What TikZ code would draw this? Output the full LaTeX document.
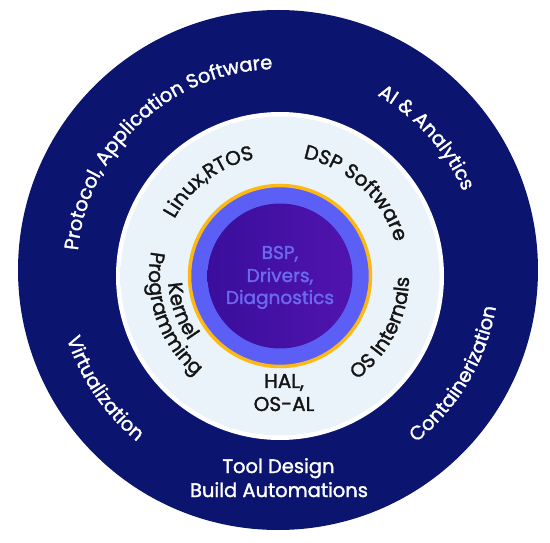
\documentclass[tikz,border=0pt]{standalone}
\usepackage{fontspec}
\setmainfont{Poppins}[FakeBold=1.6]
\usetikzlibrary{decorations.text}
\definecolor{navy}{HTML}{0B156F}
\definecolor{navyrim}{HTML}{060C48}
\definecolor{lightfill}{HTML}{EAF2FA}
\definecolor{lightrim}{HTML}{A9AEB3}
\definecolor{ringblue}{HTML}{5C5FF6}
\definecolor{gold}{HTML}{FDB913}
\definecolor{purpleA}{HTML}{3A0E9C}
\definecolor{purpleB}{HTML}{5014AE}
\definecolor{coretext}{HTML}{6D68F0}
\definecolor{ink}{HTML}{151515}
\pgfdeclareradialshading{navyshade}{\pgfpoint{0bp}{0bp}}{color(0bp)=(navy); color(49bp)=(navy); color(50bp)=(navyrim); color(70bp)=(navyrim)}
\pgfdeclareradialshading{lightshade}{\pgfpoint{0bp}{0bp}}{color(0bp)=(lightfill); color(48.2bp)=(lightfill); color(50bp)=(lightrim); color(70bp)=(lightrim)}
\newcommand\myOuterFont{\fontsize{19.5}{19.5}\selectfont}
\newcommand\myInnerFont{\fontsize{20}{20}\selectfont}
\begin{document}
\begin{tikzpicture}[x=1pt,y=1pt,
  outerlabel/.style={text=white, font=\myOuterFont, anchor=base},
  innerlabel/.style={text=ink, font=\myInnerFont, anchor=base},
  corelabel/.style={text=coretext, font=\fontsize{18.5}{18.5}\selectfont, anchor=base}]
\useasboundingbox (0,0) rectangle (550,542);
\coordinate (O) at (278,272);
\coordinate (C) at (280,266);
% rings
\path[shading=navyshade] (O) circle[radius=260];
\fill[white] (C) circle[radius=164];
\path[shading=lightshade] (C) circle[radius=159.5];
\draw[gold, line width=3.5pt, fill=ringblue] (C) circle[radius=90.5];
\path[left color=purpleA, right color=purpleB] (C) circle[radius=72.5];
% outer ring texts
\path[decorate, decoration={text along path, text align=center, text color=white,
  text={|\myOuterFont|Protocol, Application Software}}]
  (O) ++(193:201) arc[start angle=193, end angle=73, radius=201];
\path[decorate, decoration={text along path, text align=center, text color=white,
  text={|\myOuterFont|AI {\&} Analytics}}]
  (O) ++(101.7:201) arc[start angle=101.7, end angle=-18.3, radius=201];
\path[decorate, decoration={text along path, text align=center, text color=white,
  text={|\myOuterFont|Virtualization}}]
  (O) ++(154.3:222) arc[start angle=154.3, end angle=274.3, radius=222];
\path[decorate, decoration={text along path, text align=center, text color=white,
  text={|\myOuterFont|Containerization}}]
  (O) ++(269.5:221) arc[start angle=269.5, end angle=389.5, radius=221];
\node[outerlabel] (tool) at (278.5,69) {Tool Design};
\node[outerlabel] (build) at (279,45) {Build Automations};
% inner ring texts
\path[decorate, decoration={text along path, text align=center, text color=ink,
  text={|\myInnerFont|Linux,RTOS}}]
  (C) ++(187:120) arc[start angle=187, end angle=67, radius=120];
\path[decorate, decoration={text along path, text align=center, text color=ink,
  text={|\myInnerFont|DSP Software}}]
  (C) ++(107.6:120) arc[start angle=107.6, end angle=-12.4, radius=120];
\path[decorate, decoration={text along path, text align=center, text color=ink,
  text={|\myInnerFont|OS Internals}}]
  (C) ++(273:129) arc[start angle=273, end angle=393, radius=129];
\path[decorate, decoration={text along path, text align=center, text color=ink,
  text={|\myInnerFont|Kernel}}]
  (C) ++(139.5:112) arc[start angle=139.5, end angle=259.5, radius=112];
\path[decorate, decoration={text along path, text align=center, text color=ink,
  text={|\myInnerFont|Programming}}]
  (C) ++(139.5:131) arc[start angle=139.5, end angle=259.5, radius=131];
\node[innerlabel] (hal) at (284,154) {HAL,};
\node[innerlabel] (osal) at (284,131) {OS-AL};
% core
\node[corelabel] (bsp) at (280,283) {BSP,};
\node[corelabel] (drv) at (280,260) {Drivers,};
\node[corelabel] (diag) at (280,238) {Diagnostics};
\end{tikzpicture}
\end{document}
